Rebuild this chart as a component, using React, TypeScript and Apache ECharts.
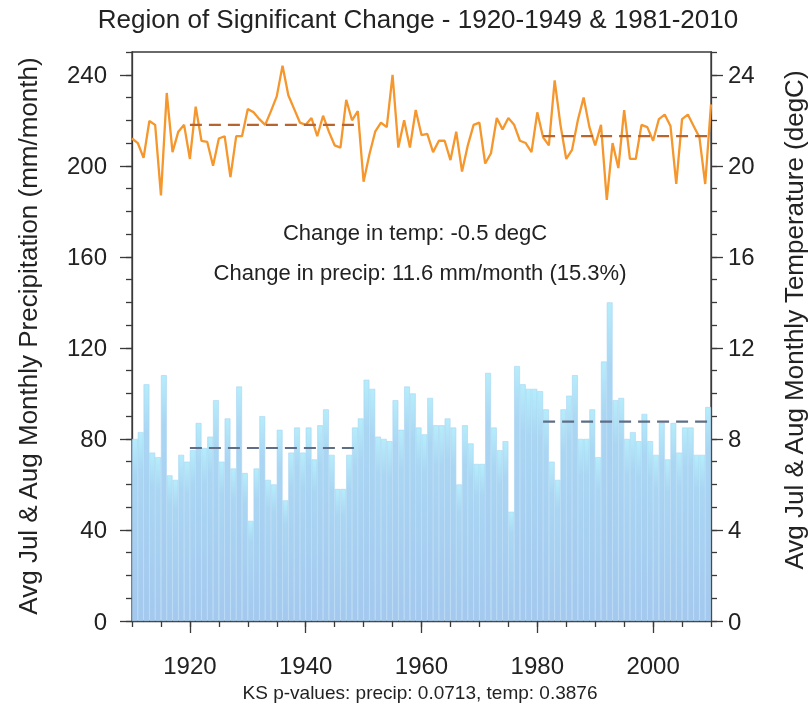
import React, { useEffect, useRef } from "react";
import * as echarts from "echarts";

const startYear = 1910;
const endYear = 2010;

// Avg Jul & Aug monthly precipitation (mm/month), 1910..2009 (bar spans year..year+1)
const precip = [
  80, 83, 104, 74, 72, 108, 64, 62, 73, 70,
  75, 87, 76, 81, 97, 70, 89, 67, 103, 65,
  44, 67, 90, 62, 60, 84, 53, 74, 85, 74,
  85, 71, 86, 93, 73, 58, 58, 73, 85, 89,
  106, 102, 81, 80, 79, 97, 84, 103, 100, 85,
  82, 98, 86, 86, 89, 85, 60, 86, 78, 69,
  69, 109, 85, 75, 79, 48, 112, 104, 102, 102,
  101, 93, 70, 62, 93, 99, 108, 80, 80, 93,
  72, 114, 140, 97, 98, 80, 83, 79, 91, 79,
  73, 87, 71, 87, 74, 85, 85, 73, 73, 94,
];

// Avg Jul & Aug monthly temperature (degC), 1910..2010
const temp = [
  21.2, 21.0, 20.35, 21.97, 21.8, 18.7, 23.2, 20.6, 21.5, 21.8,
  20.3, 22.6, 21.1, 21.05, 20.0, 21.2, 21.3, 19.5, 21.3, 21.3,
  22.5, 22.35, 22.05, 21.8, 22.4, 23.05, 24.4, 23.1, 22.5, 21.9,
  21.8, 22.1, 21.3, 22.2, 21.5, 20.9, 20.8, 22.9, 22.0, 22.4,
  19.3, 20.5, 21.5, 21.9, 21.7, 24.0, 20.8, 22.0, 20.8, 22.45,
  21.35, 21.4, 20.6, 21.1, 21.1, 20.25, 21.5, 19.75, 20.9, 21.8,
  21.9, 20.1, 20.55, 22.1, 21.6, 22.1, 21.8, 21.1, 21.0, 20.6,
  22.35, 21.25, 20.9, 23.75, 21.8, 20.3, 20.7, 22.0, 23.0, 21.7,
  20.9, 21.8, 18.5, 21.0, 19.9, 22.45, 20.3, 20.3, 21.8, 21.7,
  21.1, 22.05, 22.25, 21.75, 19.2, 22.05, 22.25, 21.75, 21.25, 19.2,
  22.7,
];

const earlyPeriod = [1920, 1949];
const latePeriod = [1981, 2010];
const precipMeans = [76.0, 87.6];
const tempMeans = [21.8, 21.3];

const xLabels = [1920, 1940, 1960, 1980, 2000];
const precipLabels = [0, 40, 80, 120, 160, 200, 240];
const tempLabels = [0, 4, 8, 12, 16, 20, 24];

const titleText = "Region of Significant Change - 1920-1949 & 1981-2010";
const leftName = "Avg Jul & Aug Monthly Precipitation (mm/month)";
const rightName = "Avg Jul & Aug Monthly Temperature (degC)";
const note1 = "Change in temp: -0.5 degC";
const note2 = "Change in precip: 11.6 mm/month (15.3%)";
const footText = "KS p-values: precip: 0.0713, temp: 0.3876";

const FONT = "'Liberation Sans', Arial, Helvetica, sans-serif";
const INK = "#222";
const AX = "#3a3a3a";

export default function App() {
  const ref = useRef<HTMLDivElement>(null);

  useEffect(() => {
    if (!ref.current) return;
    const chart = echarts.init(ref.current, undefined, { renderer: "svg" });

    const barData = precip.map((v, i) => [startYear + i + 0.5, v]);
    const tempData = temp.map((v, i) => [startYear + i, v]);

    const axLine = { show: true, lineStyle: { color: AX, width: 1.3 } };
    const tickStyle = { color: AX, width: 1.3 };
    const labelStyle = { fontFamily: FONT, fontSize: 24, color: INK };
    const plain = (v: number) => String(v);

    const option: any = {
      animation: false,
      textStyle: { fontFamily: FONT },
      grid: {
        left: 132,
        right: 100,
        top: 52,
        bottom: 89,
        show: true,
        borderColor: AX,
        borderWidth: 1.3,
        backgroundColor: "transparent",
      },
      xAxis: [
        {
          type: "value",
          min: startYear,
          max: endYear,
          interval: 5,
          axisLine: axLine,
          axisTick: { show: true, length: 6, lineStyle: tickStyle },
          axisLabel: { ...labelStyle, customValues: xLabels, margin: 32, formatter: plain },
          splitLine: { show: false },
        },
        {
          type: "value",
          min: startYear,
          max: endYear,
          position: "bottom",
          axisLine: { show: false },
          axisTick: { show: true, length: 12, customValues: xLabels, lineStyle: tickStyle },
          axisLabel: { show: false },
          splitLine: { show: false },
        },
      ],
      yAxis: [
        {
          type: "value",
          position: "left",
          min: 0,
          max: 250,
          interval: 10,
          axisLine: axLine,
          axisTick: { show: true, length: 6, lineStyle: tickStyle },
          axisLabel: { ...labelStyle, customValues: precipLabels, margin: 25, formatter: plain },
          splitLine: { show: false },
        },
        {
          type: "value",
          position: "left",
          min: 0,
          max: 250,
          axisLine: { show: false },
          axisTick: { show: true, length: 12, customValues: precipLabels, lineStyle: tickStyle },
          axisLabel: { show: false },
          splitLine: { show: false },
        },
        {
          type: "value",
          position: "right",
          min: 0,
          max: 25,
          interval: 1,
          axisLine: axLine,
          axisTick: { show: true, length: 6, lineStyle: tickStyle },
          axisLabel: { ...labelStyle, customValues: tempLabels, margin: 17, formatter: plain },
          splitLine: { show: false },
        },
        {
          type: "value",
          position: "right",
          min: 0,
          max: 25,
          axisLine: { show: false },
          axisTick: { show: true, length: 12, customValues: tempLabels, lineStyle: tickStyle },
          axisLabel: { show: false },
          splitLine: { show: false },
        },
      ],
      series: [
        {
          type: "bar",
          xAxisIndex: 0,
          yAxisIndex: 0,
          data: barData,
          barWidth: "100%",
          itemStyle: {
            color: new echarts.graphic.LinearGradient(0, 0, 0, 1, [
              { offset: 0, color: "#b5edfb" },
              { offset: 0.2, color: "#aad6f3" },
              { offset: 1, color: "#a4c8ee" },
            ]),
            borderColor: "#a9d3f2",
            borderWidth: 0.6,
          },
          z: 1,
        },
        {
          type: "line",
          xAxisIndex: 0,
          yAxisIndex: 0,
          data: earlyPeriod.map((y) => [y, precipMeans[0]]),
          showSymbol: false,
          lineStyle: { color: "#5f6e86", width: 2.2, type: [12, 7] },
          z: 3,
        },
        {
          type: "line",
          xAxisIndex: 0,
          yAxisIndex: 0,
          data: latePeriod.map((y) => [y, precipMeans[1]]),
          showSymbol: false,
          lineStyle: { color: "#5f6e86", width: 2.2, type: [12, 7] },
          z: 3,
        },
        {
          type: "line",
          xAxisIndex: 0,
          yAxisIndex: 2,
          data: tempData,
          showSymbol: false,
          lineStyle: { color: "#f5972c", width: 2.3 },
          z: 4,
        },
        {
          type: "line",
          xAxisIndex: 0,
          yAxisIndex: 2,
          data: earlyPeriod.map((y) => [y, tempMeans[0]]),
          showSymbol: false,
          lineStyle: { color: "#b8642f", width: 2.2, type: [12, 7] },
          z: 5,
        },
        {
          type: "line",
          xAxisIndex: 0,
          yAxisIndex: 2,
          data: latePeriod.map((y) => [y, tempMeans[1]]),
          showSymbol: false,
          lineStyle: { color: "#b8642f", width: 2.2, type: [12, 7] },
          z: 5,
        },
      ],
      graphic: [
        {
          type: "text",
          x: 418,
          y: 19,
          style: { text: titleText, font: `26px ${FONT}`, fill: INK, align: "center", verticalAlign: "middle" },
        },
        {
          type: "text",
          x: 28,
          y: 336,
          rotation: Math.PI / 2,
          style: { text: leftName, font: `26px ${FONT}`, fill: INK, align: "center", verticalAlign: "middle" },
        },
        {
          type: "text",
          x: 794,
          y: 320,
          rotation: Math.PI / 2,
          style: { text: rightName, font: `26px ${FONT}`, fill: INK, align: "center", verticalAlign: "middle" },
        },
        {
          type: "text",
          x: 415,
          y: 232,
          style: { text: note1, font: `22px ${FONT}`, fill: INK, align: "center", verticalAlign: "middle" },
        },
        {
          type: "text",
          x: 420,
          y: 272,
          style: { text: note2, font: `22px ${FONT}`, fill: INK, align: "center", verticalAlign: "middle" },
        },
        {
          type: "text",
          x: 420,
          y: 692,
          style: { text: footText, font: `19px ${FONT}`, fill: INK, align: "center", verticalAlign: "middle" },
        },
      ],
    };

    chart.setOption(option);
    return () => chart.dispose();
  }, []);

  return (
    <div
      ref={ref}
      style={{ position: "fixed", left: 0, top: 0, width: 811, height: 710 }}
    />
  );
}
